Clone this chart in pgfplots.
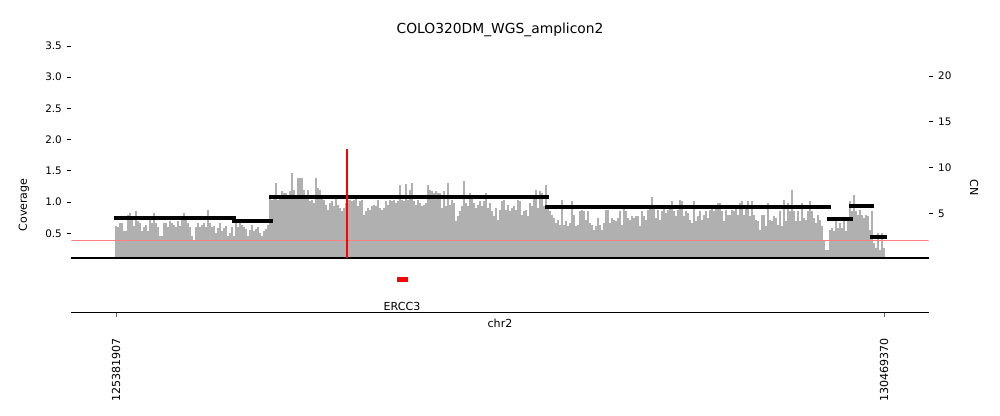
\documentclass[border=0pt]{standalone}
\usepackage{fontspec}
\setmainfont{DejaVu Sans}
\usepackage{pgfplots}
\usepackage{pgfplotstable}
\pgfplotsset{compat=1.18}

\definecolor{bargray}{RGB}{176,176,176}

% coverage per bin (bin index 0..384 between the two tick positions)
\pgfplotstableread{
bin cov
0 0.62
1 0.60
2 0.66
3 0.67
4 0.53
5 0.53
6 0.79
7 0.82
8 0.71
9 0.61
10 0.85
11 0.69
12 0.66
13 0.53
14 0.60
15 0.63
16 0.53
17 0.78
18 0.67
19 0.83
20 0.66
21 0.60
22 0.45
23 0.45
24 0.66
25 0.66
26 0.60
27 0.70
28 0.67
29 0.63
30 0.60
31 0.69
32 0.62
33 0.71
34 0.83
35 0.71
36 0.66
37 0.60
38 0.45
39 0.39
40 0.60
41 0.66
42 0.60
43 0.63
44 0.67
45 0.60
46 0.87
47 0.67
48 0.60
49 0.61
50 0.50
51 0.58
52 0.66
53 0.53
54 0.58
55 0.62
56 0.45
57 0.51
58 0.60
59 0.45
60 0.66
61 0.60
62 0.66
63 0.63
64 0.60
65 0.57
66 0.45
67 0.55
68 0.63
69 0.53
70 0.57
71 0.60
72 0.51
73 0.45
74 0.53
75 0.57
76 0.63
77 1.06
78 1.03
79 1.11
80 1.30
81 1.03
82 1.09
83 1.17
84 1.14
85 1.15
86 1.11
87 1.17
88 1.47
89 1.19
90 1.11
91 1.38
92 1.38
93 1.38
94 1.19
95 1.11
96 1.19
97 1.01
98 1.03
99 0.98
100 1.38
101 1.22
102 1.19
103 1.11
104 1.03
105 0.95
106 0.87
107 0.98
108 1.01
109 0.93
110 1.06
111 0.95
112 0.90
113 0.85
114 0.90
115 0.98
116 1.03
117 1.03
118 1.01
119 1.03
120 1.06
121 0.93
122 1.01
123 1.03
124 0.79
125 0.85
126 0.90
127 0.87
128 0.93
129 0.95
130 0.93
131 1.03
132 0.90
133 0.87
134 0.90
135 1.01
136 0.95
137 1.03
138 1.01
139 1.03
140 0.98
141 1.01
142 1.27
143 1.04
144 1.02
145 1.29
146 1.03
147 1.19
148 1.31
149 1.01
150 0.95
151 1.03
152 0.98
153 0.93
154 0.95
155 0.98
156 1.27
157 1.19
158 1.17
159 1.14
160 1.17
161 1.14
162 1.15
163 0.90
164 1.17
165 0.93
166 1.30
167 0.95
168 1.03
169 0.98
170 0.69
171 0.77
172 0.85
173 0.93
174 1.33
175 0.98
176 0.93
177 1.14
178 1.11
179 0.98
180 0.90
181 0.95
182 1.01
183 0.93
184 1.01
185 1.14
186 0.90
187 0.98
188 0.85
189 0.77
190 0.90
191 0.71
192 0.87
193 1.01
194 1.03
195 0.87
196 0.95
197 0.85
198 0.90
199 0.93
200 0.87
201 1.03
202 1.01
203 0.79
204 0.85
205 0.87
206 0.77
207 0.98
208 0.93
209 1.11
210 1.19
211 0.90
212 1.17
213 1.14
214 0.93
215 1.27
216 0.93
217 0.85
218 0.80
219 0.74
220 0.67
221 0.71
222 0.63
223 1.03
224 0.64
225 0.69
226 0.61
227 0.66
228 1.01
229 0.79
230 0.61
231 0.63
232 0.85
233 0.87
234 0.85
235 0.71
236 0.85
237 0.66
238 0.63
239 0.55
240 0.61
241 0.74
242 0.63
243 0.55
244 0.67
245 0.87
246 0.87
247 0.66
248 0.74
249 0.71
250 0.69
251 0.74
252 0.85
253 0.63
254 0.95
255 0.85
256 0.74
257 0.71
258 0.77
259 0.74
260 0.77
261 0.78
262 0.61
263 0.85
264 0.77
265 0.71
266 0.87
267 0.90
268 1.08
269 0.90
270 0.74
271 0.87
272 0.71
273 0.85
274 0.90
275 0.82
276 0.87
277 0.95
278 1.01
279 0.85
280 0.78
281 0.87
282 1.03
283 1.02
284 0.77
285 0.85
286 0.82
287 0.71
288 0.67
289 1.01
290 0.69
291 0.77
292 0.85
293 0.71
294 0.79
295 0.85
296 0.74
297 0.87
298 0.93
299 0.85
300 0.90
301 0.98
302 0.99
303 0.85
304 0.69
305 0.87
306 0.79
307 0.79
308 0.88
309 0.85
310 0.90
311 0.79
312 0.99
313 1.01
314 0.79
315 0.90
316 1.02
317 0.77
318 1.01
319 0.79
320 0.71
321 0.69
322 0.55
323 0.79
324 0.80
325 0.61
326 0.98
327 0.71
328 0.69
329 0.77
330 0.74
331 0.63
332 0.85
333 0.61
334 1.03
335 0.69
336 0.98
337 0.85
338 1.20
339 0.85
340 0.69
341 0.85
342 0.69
343 0.98
344 0.74
345 0.71
346 0.85
347 1.01
348 0.85
349 0.74
350 0.66
351 0.79
352 0.71
353 0.62
354 0.39
355 0.23
356 0.23
357 0.55
358 0.58
359 0.53
360 0.69
361 0.58
362 0.66
363 0.58
364 0.69
365 0.53
366 0.69
367 1.01
368 0.85
369 1.11
370 0.85
371 0.79
372 0.87
373 0.79
374 0.74
375 0.79
376 0.78
377 0.55
378 0.85
379 0.34
380 0.26
381 0.50
382 0.23
383 0.50
384 0.26
}\covtable

\pgfplotsset{
  every axis/.append style={
    scale only axis, width=619.35pt, anchor=south west,
    xmin=-22.25, xmax=406.25,
    tick align=outside, major tick length=3.5pt,
    tick style={black, line width=0.6pt},
    ticklabel style={font=\fontsize{7.5}{9}\selectfont},
  },
  cnseg/.style={black, line width=2.9pt, line cap=rect, forget plot},
}

\begin{document}
\begin{tikzpicture}
\useasboundingbox (0,0) rectangle (722.7pt,300.64pt);

% coverage
\begin{axis}[
  at={(51.67pt,114.4pt)}, height=155.16pt,
  ymin=0.109, ymax=3.547,
  clip mode=individual,
  axis x line=none, axis y line*=left,
  y axis line style={draw=none},
  ytick={0.5,1,1.5,2,2.5,3,3.5},
  yticklabel style={/pgf/number format/.cd, fixed, fixed zerofill, precision=1, assume math mode=true},
]
\addplot[ycomb, bargray, line width=0.74pt] table[x=bin, y=cov] {\covtable};
\addplot[red!50!white, line width=0.7pt] coordinates {(-22.25,0.385) (406.25,0.385)};
\draw[black, line width=1.6pt] (rel axis cs:0,0) -- (rel axis cs:1,0);
\end{axis}

% copy number
\begin{axis}[
  at={(51.67pt,114.4pt)}, height=155.16pt,
  ymin=0.153, ymax=23.61,
  axis x line=none, axis y line*=right,
  y axis line style={draw=none},
  ytick={5,10,15,20},
  yticklabel style={/pgf/number format/assume math mode=true},
]
\addplot[cnseg] coordinates {(0,4.46) (59,4.46)};
\addplot[cnseg] coordinates {(59,4.16) (77.7,4.16)};
\addplot[cnseg] coordinates {(77.7,6.76) (215.7,6.76)};
\addplot[cnseg] coordinates {(215.7,5.66) (356.3,5.66)};
\addplot[cnseg] coordinates {(356.3,4.35) (367.3,4.35)};
\addplot[cnseg] coordinates {(367.3,5.77) (378.2,5.77)};
\addplot[cnseg] coordinates {(378.2,2.38) (384.3,2.38)};
\addplot[red, line width=2pt] coordinates {(115.5,0.153) (115.5,12.03)};
\end{axis}

% gene track
\begin{axis}[
  at={(51.67pt,75.16pt)}, height=36.14pt,
  ymin=0, ymax=1,
  axis y line=none, axis x line*=bottom,
  x axis line style={line width=0.6pt},
  xtick={0,384}, xticklabels={},
  x tick style={black!60, line width=0.6pt},
]
\addplot[red, line width=3.2pt] coordinates {(140.4,0.65) (145.85,0.65)};
\node[font=\fontsize{8}{9.6}\selectfont] at (axis cs:143,0.12) {ERCC3};
\end{axis}

\node[font=\fontsize{10}{12}\selectfont] at (361.35pt,278.96pt) {COLO320DM\_WGS\_amplicon2};
\node[font=\fontsize{8}{9.6}\selectfont, rotate=90] at (17.35pt,152.5pt) {Coverage};
\node[font=\fontsize{8}{9.6}\selectfont, rotate=-90] at (704pt,164.8pt) {CN};
\node[font=\fontsize{8}{9.6}\selectfont] at (361.35pt,67.2pt) {chr2};
\node[font=\fontsize{8}{9.6}\selectfont, rotate=90, anchor=east, inner sep=0pt] at (83.83pt,56.37pt) {125381907};
\node[font=\fontsize{8}{9.6}\selectfont, rotate=90, anchor=east, inner sep=0pt] at (638.87pt,56.37pt) {130469370};
\end{tikzpicture}
\end{document}
